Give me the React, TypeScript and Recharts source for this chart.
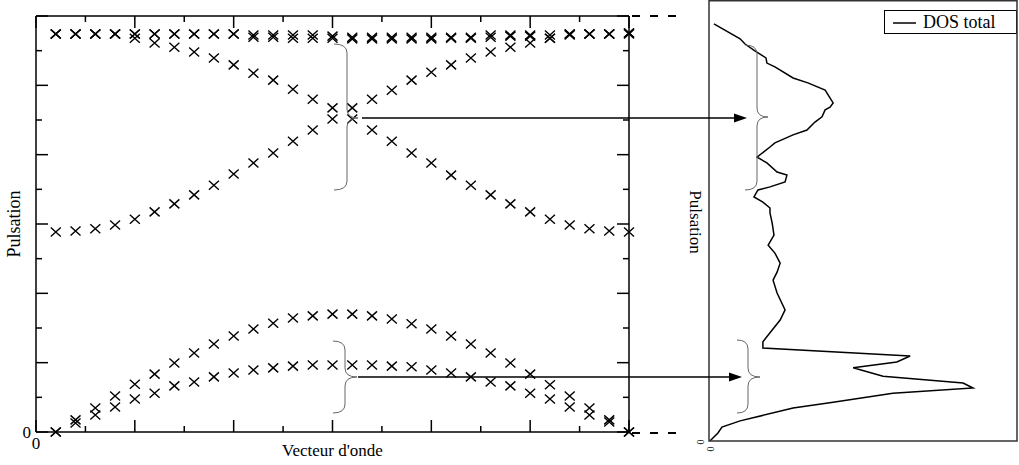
import React from 'react';
import { ScatterChart, Scatter, XAxis, YAxis, Legend } from 'recharts';

// Wave-vector sample index (category axis of the dispersion plot)
const K = [1, 2, 3, 4, 5, 6, 7, 8, 9, 10, 11, 12, 13, 14, 15, 16, 17, 18, 19, 20, 21, 22, 23, 24, 25, 26, 27, 28, 29, 30];

// Dispersion branches (pulsation, arbitrary units)
const acousticLow = [0, 0.26, 0.49, 0.72, 0.95, 1.12, 1.33, 1.44, 1.59, 1.7, 1.79, 1.85, 1.9, 1.93, 1.93, 1.93, 1.93, 1.9, 1.88, 1.79, 1.7, 1.59, 1.44, 1.33, 1.12, 0.95, 0.72, 0.49, 0.29, 0];
const acousticHigh = [0, 0.35, 0.69, 1.04, 1.38, 1.67, 1.99, 2.28, 2.54, 2.77, 2.97, 3.14, 3.29, 3.35, 3.4, 3.4, 3.35, 3.26, 3.12, 2.97, 2.77, 2.54, 2.28, 1.99, 1.67, 1.36, 1.04, 0.69, 0.35, 0];
const opticalDown = [11.48, 11.48, 11.48, 11.48, 11.36, 11.22, 11.1, 10.96, 10.79, 10.59, 10.35, 10.15, 9.89, 9.6, 9.35, 9.03, 8.71, 8.39, 8.05, 7.76, 7.41, 7.12, 6.84, 6.58, 6.35, 6.14, 5.97, 5.86, 5.8, 5.77];
const opticalUp = [5.77, 5.8, 5.86, 5.97, 6.14, 6.35, 6.58, 6.84, 7.12, 7.44, 7.76, 8.05, 8.39, 8.71, 9.03, 9.35, 9.6, 9.86, 10.15, 10.38, 10.59, 10.79, 10.96, 11.1, 11.22, 11.36, 11.48, 11.48, 11.48, 11.51];
const flatA = [11.48, 11.48, 11.48, 11.48, 11.48, 11.48, 11.48, 11.48, 11.48, 11.48, 11.45, 11.45, 11.45, 11.45, 11.42, 11.39, 11.39, 11.39, 11.39, 11.39, 11.39, 11.39, 11.45, 11.45, 11.45, 11.45, 11.48, 11.48, 11.48, 11.51];
const flatB = [11.48, 11.48, 11.48, 11.48, 11.48, 11.48, 11.48, 11.48, 11.48, 11.48, 11.39, 11.39, 11.36, 11.36, 11.36, 11.34, 11.34, 11.34, 11.34, 11.34, 11.36, 11.36, 11.39, 11.42, 11.42, 11.36, 11.45, 11.48, 11.48, 11.48];

// Axis ticks
const xTicks = [0, 2.5, 5, 7.5, 10, 12.5, 15, 17.5, 20, 22.5, 25, 27.5, 30];
const yTicks = [0, 1, 2, 3, 4, 5, 6, 7, 8, 9, 10, 11, 12];

// Density of states (pulsation vs DOS), listed from low to high pulsation
const dosOmega = [0, 0.23, 0.4, 0.58, 0.95, 1.12, 1.38, 1.53, 1.67, 1.87, 2.11, 2.28, 2.45, 2.68, 2.86, 3.12, 3.49, 3.78, 4.27, 4.64, 4.87, 5.13, 5.42, 5.65, 5.94, 6.29, 6.58, 6.72, 6.89, 7.04, 7.24, 7.33, 7.47, 7.67, 7.76, 8.02, 8.19, 8.48, 8.6, 8.83, 8.97, 9.2, 9.35, 9.55, 9.63, 9.75, 10.12, 10.33, 10.47, 10.79, 10.9, 11.05, 11.25, 11.45, 11.6, 12.03];
const dosValue = [0.03, 0.29, 0.42, 1.01, 2.73, 4.03, 5.97, 8.57, 8.25, 5.65, 4.68, 6.1, 6.53, 1.75, 1.75, 1.98, 2.31, 2.47, 2.21, 2.08, 2.21, 2.31, 2.14, 1.92, 2.11, 2.05, 1.98, 1.98, 1.75, 1.46, 1.59, 1.98, 2.47, 2.53, 2.21, 1.88, 1.56, 1.98, 2.14, 2.73, 3.18, 3.44, 3.67, 3.77, 3.93, 4.03, 3.77, 3.21, 2.73, 2.14, 1.88, 1.85, 1.49, 1.17, 1.01, 0.16];

const FONT = '"Liberation Serif", "Times New Roman", serif';

const toPoints = (values: number[]) => K.map((k, i) => ({ k, w: values[i] }));
const branches = [acousticLow, acousticHigh, opticalDown, opticalUp, flatA, flatB];
const dosData = dosOmega.map((w, i) => ({ d: dosValue[i], w }));

const Cross = (props: any) => {
  const { cx, cy } = props;
  if (cx == null || cy == null) return <g />;
  return (
    <path
      d={`M${cx - 5},${cy - 4.5}L${cx + 5},${cy + 4.5}M${cx - 5},${cy + 4.5}L${cx + 5},${cy - 4.5}`}
      stroke="#000"
      strokeWidth={1.4}
      fill="none"
    />
  );
};

const makeTick = (side: 'bottom' | 'top' | 'left' | 'right') => (props: any) => {
  const { x, y, payload } = props;
  const v = payload.value;
  const isX = side === 'bottom' || side === 'top';
  const major = isX ? v % 5 === 0 : v % 2 === 0;
  const L = major ? 12 : 6;
  let x2 = x;
  let y2 = y;
  if (side === 'bottom') y2 = y - L;
  else if (side === 'top') y2 = y + L;
  else if (side === 'left') x2 = x + L;
  else x2 = x - L;
  let label = null;
  if (v === 0 && side === 'bottom')
    label = <text x={x} y={y + 17} textAnchor="middle" fontSize={17} fill="#000" fontFamily={FONT}>0</text>;
  if (v === 0 && side === 'left')
    label = <text x={x - 5} y={y + 6} textAnchor="end" fontSize={17} fill="#000" fontFamily={FONT}>0</text>;
  return (
    <g>
      <line x1={x} x2={x2} y1={y} y2={y2} stroke="#000" strokeWidth={1.5} />
      {label}
    </g>
  );
};

const YLabel = (props: any) => {
  const vb = props.viewBox || { x: 6, y: 16, width: 30, height: 416 };
  const cx = vb.x + 8;
  const cy = vb.y + vb.height / 2;
  return (
    <text x={cx} y={cy} transform={`rotate(-90 ${cx} ${cy})`} textAnchor="middle" dominantBaseline="central" fontSize={18} fontFamily={FONT} fill="#000">
      Pulsation
    </text>
  );
};

const XLabel = (props: any) => {
  const vb = props.viewBox || { x: 36, y: 432, width: 593, height: 30 };
  const cx = vb.x + vb.width / 2;
  const cy = vb.y + 18;
  return (
    <text x={cx} y={cy} textAnchor="middle" dominantBaseline="central" fontSize={17} fontFamily={FONT} fill="#000">
      Vecteur d'onde
    </text>
  );
};

const LegendBox = (props: any) => {
  const item = (props.payload && props.payload[0]) || { value: 'DOS total' };
  return (
    <div
      style={{
        width: 133,
        height: 24,
        boxSizing: 'border-box',
        border: '1px solid #000',
        background: '#fff',
        display: 'flex',
        alignItems: 'center',
        fontFamily: FONT,
        fontSize: 18,
        color: '#000',
        lineHeight: '20px',
      }}
    >
      <svg width={38} height={22} style={{ display: 'block' }}>
        <line x1={8} x2={31} y1={12} y2={12} stroke="#000" strokeWidth={1.5} />
      </svg>
      <span>{item.value}</span>
    </div>
  );
};

const EmptyShape = () => <g />;

function brace(x0: number, xv: number, xt: number, yt: number, ym: number, yb: number) {
  const r = 9;
  return `M${x0},${yt} Q${xv},${yt} ${xv},${yt + r} L${xv},${ym - r} Q${xv},${ym} ${xt},${ym} Q${xv},${ym} ${xv},${ym + r} L${xv},${yb - r} Q${xv},${yb} ${x0},${yb}`;
}

export default function App() {
  return (
    <div style={{ position: 'absolute', left: 0, top: 0, width: 1019, height: 465, background: '#fff', fontFamily: FONT }}>
      <div style={{ position: 'absolute', left: 0, top: 0 }}>
        <ScatterChart width={660} height={465} margin={{ top: 15, right: 30, bottom: 3, left: 6 }}>
          <XAxis
            xAxisId="b"
            dataKey="k"
            type="number"
            domain={[0, 30]}
            ticks={xTicks}
            interval={0}
            tickSize={0}
            tickMargin={0}
            tickLine={false}
            height={30}
            axisLine={{ stroke: '#000', strokeWidth: 1.5 }}
            tick={makeTick('bottom')}
            label={<XLabel />}
          />
          <XAxis
            xAxisId="t"
            dataKey="k"
            orientation="top"
            type="number"
            domain={[0, 30]}
            ticks={xTicks}
            interval={0}
            tickSize={0}
            tickMargin={0}
            tickLine={false}
            height={1}
            axisLine={{ stroke: '#000', strokeWidth: 1.5 }}
            tick={makeTick('top')}
          />
          <YAxis
            yAxisId="l"
            dataKey="w"
            type="number"
            domain={[0, 12]}
            ticks={yTicks}
            interval={0}
            tickSize={0}
            tickMargin={0}
            tickLine={false}
            width={30}
            axisLine={{ stroke: '#000', strokeWidth: 1.5 }}
            tick={makeTick('left')}
            label={<YLabel />}
          />
          <YAxis
            yAxisId="r"
            dataKey="w"
            orientation="right"
            type="number"
            domain={[0, 12]}
            ticks={yTicks}
            interval={0}
            tickSize={0}
            tickMargin={0}
            tickLine={false}
            width={1}
            axisLine={{ stroke: '#000', strokeWidth: 1.5 }}
            tick={makeTick('right')}
          />
          {branches.map((b, i) => (
            <Scatter
              key={i}
              xAxisId="b"
              yAxisId="l"
              data={toPoints(b)}
              shape={Cross}
              isAnimationActive={false}
            />
          ))}
          <Scatter
            xAxisId="t"
            yAxisId="r"
            data={toPoints(opticalDown)}
            shape={EmptyShape}
            legendType="none"
            isAnimationActive={false}
          />
        </ScatterChart>
      </div>

      <div style={{ position: 'absolute', left: 709, top: 0 }}>
        <ScatterChart width={308} height={441} margin={{ top: 0, right: 0, bottom: 0, left: 0 }}>
          <XAxis dataKey="d" type="number" domain={[0, 10]} hide />
          <YAxis dataKey="w" type="number" domain={[0, 12.72]} hide />
          <Legend
            layout="horizontal"
            verticalAlign="middle"
            align="center"
            content={<LegendBox />}
            wrapperStyle={{ left: 175, top: 10, width: 'auto' }}
          />
          <Scatter
            name="DOS total"
            data={dosData}
            line={{ stroke: '#000', strokeWidth: 1.5 }}
            lineType="joint"
            shape={EmptyShape}
            legendType="line"
            fill="#000"
            isAnimationActive={false}
          />
        </ScatterChart>
      </div>

      <svg width={1019} height={465} style={{ position: 'absolute', left: 0, top: 0, pointerEvents: 'none' }}>
        {/* right panel frame */}
        <rect x={709} y={0.75} width={308} height={440.25} fill="none" stroke="#333" strokeWidth={1.5} />
        {/* connecting dashed lines */}
        <line x1={632} x2={681} y1={16} y2={16} stroke="#000" strokeWidth={2} strokeDasharray="8 10" />
        <line x1={632} x2={681} y1={433} y2={433} stroke="#000" strokeWidth={2} strokeDasharray="8 10" />
        {/* braces */}
        <g fill="none" stroke="#666" strokeWidth={1}>
          <path d={brace(334, 347, 358, 44, 118, 190)} />
          <path d={brace(333, 345, 357, 341, 377, 413)} />
          <path d={brace(745, 757, 768, 45, 117, 190)} />
          <path d={brace(737, 748, 760, 340, 377, 413)} />
        </g>
        {/* arrows */}
        <line x1={362} x2={736} y1={118} y2={118} stroke="#000" strokeWidth={1.5} />
        <polygon points="747,118 734,113.5 734,122.5" fill="#000" />
        <line x1={358} x2={731} y1={377} y2={377} stroke="#000" strokeWidth={1.5} />
        <polygon points="742,377 729,372.5 729,381.5" fill="#000" />
        {/* right panel labels */}
        <text x={695} y={222} transform="rotate(90 695 222)" textAnchor="middle" dominantBaseline="central" fontSize={17} fontFamily={FONT} fill="#000">
          Pulsation
        </text>
        <text x={700} y={442} transform="rotate(90 700 442)" textAnchor="middle" dominantBaseline="central" fontSize={10} fontFamily={FONT} fill="#000">0</text>
        <text x={710} y={449} transform="rotate(90 710 449)" textAnchor="middle" dominantBaseline="central" fontSize={10} fontFamily={FONT} fill="#000">0</text>
      </svg>
    </div>
  );
}
